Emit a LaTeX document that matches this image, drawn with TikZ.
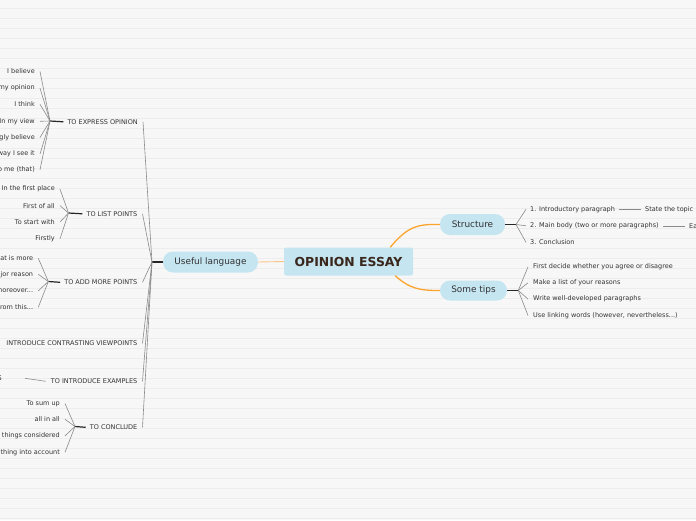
\documentclass[tikz,border=0pt]{standalone}
\usepackage{fontspec}
\setmainfont{DejaVu Sans}
\definecolor{bgc}{HTML}{F7F7F7}
\definecolor{gridc}{HTML}{EDEDED}
\definecolor{pillc}{HTML}{C5E5F1}
\definecolor{orangec}{HTML}{FBA52E}
\definecolor{lorangec}{HTML}{F7C58A}
\definecolor{fanc}{HTML}{8A8A8A}
\definecolor{txtc}{HTML}{333333}
\definecolor{titlec}{HTML}{3A271C}
\tikzset{
  small/.style={font=\fontsize{6.5}{7.5}\selectfont, text=txtc, inner sep=0pt, yshift=-0.8pt},
  leftitem/.style={small, anchor=east},
  rightitem/.style={small, anchor=west},
  pill/.style={fill=pillc, rounded corners=10pt, inner sep=0pt, font=\fontsize{8.9}{10}\selectfont, text=txtc},
  rootbox/.style={fill=pillc, rounded corners=2pt, inner sep=0pt, minimum width=129, minimum height=28, font=\fontsize{12.4}{14}\selectfont\bfseries, text=titlec},
  fan/.style={draw=fanc, line width=0.6pt},
  stub/.style={draw=black!85, line width=1.2pt},
  orangeline/.style={draw=orangec, line width=1.3pt},
}
\begin{document}
\begin{tikzpicture}[x=1pt,y=-1pt]
\useasboundingbox (0,0) rectangle (696,520);
\clip (0,0) rectangle (696,520);
\fill[bgc] (0,0) rectangle (696,520);
\foreach \k in {0,...,51} \draw[gridc, line width=0.8pt] (0,8+10*\k) -- (696,8+10*\k);

% central
\node[rootbox] (root) at (348.5,261.5) {OPINION ESSAY};
\node[pill, minimum width=95, minimum height=21] (useful) at (210.5,262) {Useful language};
\node[pill, minimum width=65, minimum height=21] (structure) at (472.5,224.5) {Structure};
\node[pill, minimum width=67, minimum height=20] (tips) at (473.5,290.5) {Some tips};

\draw[draw=lorangec, line width=0.9pt] (useful.east) -- (root.west);
\draw[orangeline] ([xshift=-23]root.north east) .. controls (408,226) and (418,224) .. (structure.west);
\draw[orangeline] ([xshift=-18]root.south east) .. controls (410,289) and (420,290.5) .. (tips.west);

% Useful language branch
\coordinate (uf) at (152,262);
\draw[stub] (useful.west) -- (uf);
\node[leftitem] (c1) at (138,121) {TO EXPRESS OPINION};
\node[leftitem] (c2) at (137.5,213) {TO LIST POINTS};
\node[leftitem] (c3) at (137.5,281.5) {TO ADD MORE POINTS};
\node[leftitem] (c4) at (137.5,342.5) {INTRODUCE CONTRASTING VIEWPOINTS};
\node[leftitem] (c5) at (137.5,380.5) {TO INTRODUCE EXAMPLES};
\node[leftitem] (c6) at (137.5,426.5) {TO CONCLUDE};
\foreach \c in {c1,c2,c3,c4,c5,c6} \draw[fan] (uf) -- ([xshift=5]\c.east);

% TO EXPRESS OPINION
\coordinate (f1) at (50,121);
\draw[stub] (f1) -- ([xshift=-4]c1.west);
\node[leftitem] (a1) at (35,70.7) {I believe};
\node[leftitem] (a2) at (35,87.3) {my opinion};
\node[leftitem] (a3) at (35,103.5) {I think};
\node[leftitem] (a4) at (35,120.5) {In my view};
\node[leftitem] (a5) at (35,136.7) {gly believe};
\node[leftitem] (a6) at (35,153.3) {way I see it};
\node[leftitem] (a7) at (35,169) {o me (that)};
\foreach \c in {a1,a2,a3,a4,a5,a6,a7} \draw[fan] (f1) -- ([xshift=5]\c.east);

% TO LIST POINTS
\coordinate (f2) at (68.5,213);
\draw[stub] (f2) -- ([xshift=-4]c2.west);
\node[leftitem] (b1) at (55,188.3) {In the first place};
\node[leftitem] (b2) at (55,204.8) {First of all};
\node[leftitem] (b3) at (55,221.2) {To start with};
\node[leftitem] (b4) at (55,238) {Firstly};
\foreach \c in {b1,b2,b3,b4} \draw[fan] (f2) -- ([xshift=5]\c.east);

% TO ADD MORE POINTS
\coordinate (f3) at (48.3,281.5);
\draw[stub] (f3) -- ([xshift=-4]c3.west);
\node[leftitem] (d1) at (33.3,257.5) {at is more};
\node[leftitem] (d2) at (33.3,273.5) {jor reason};
\node[leftitem] (d3) at (33.3,290) {moreover...};
\node[leftitem] (d4) at (33.3,306.5) {rom this...};
\foreach \c in {d1,d2,d3,d4} \draw[fan] (f3) -- ([xshift=5]\c.east);

% TO INTRODUCE EXAMPLES
\node[leftitem] (e1) at (2,377.5) {S};
\draw[fan] ([xshift=-5]c5.west) -- ([xshift=23]e1.east);

% TO CONCLUDE
\coordinate (f6) at (75,426.5);
\draw[stub] (f6) -- ([xshift=-4]c6.west);
\node[leftitem] (g1) at (60,402.7) {To sum up};
\node[leftitem] (g2) at (60,418.5) {all in all};
\node[leftitem] (g3) at (60,435) {things considered};
\node[leftitem] (g4) at (60,451.5) {thing into account};
\foreach \c in {g1,g2,g3,g4} \draw[fan] (f6) -- ([xshift=5]\c.east);

% Structure
\coordinate (fs) at (516,224.5);
\draw[stub] (structure.east) -- (fs);
\node[rightitem] (s1) at (530,208.5) {1. Introductory paragraph};
\node[rightitem] (s2) at (530,225) {2. Main body (two or more paragraphs)};
\node[rightitem] (s3) at (530,241.5) {3. Conclusion};
\foreach \c in {s1,s2,s3} \draw[fan] (fs) -- ([xshift=-4]\c.west);
\node[rightitem] (s1a) at (645,208.5) {State the topic};
\node[rightitem] (s2a) at (689,225) {Ea};
\draw[fan] ([xshift=4]s1.east) -- ([xshift=-4]s1a.west);
\draw[fan] ([xshift=4]s2.east) -- ([xshift=-4]s2a.west);

% Some tips
\coordinate (ft) at (518.3,290.5);
\draw[stub] (tips.east) -- (ft);
\node[rightitem] (t1) at (533,266) {First decide whether you agree or disagree};
\node[rightitem] (t2) at (533,282) {Make a list of your reasons};
\node[rightitem] (t3) at (533,298.3) {Write well-developed paragraphs};
\node[rightitem] (t4) at (533,314.7) {Use linking words (however, nevertheless...)};
\foreach \c in {t1,t2,t3,t4} \draw[fan] (ft) -- ([xshift=-5]\c.west);
\end{tikzpicture}
\end{document}
